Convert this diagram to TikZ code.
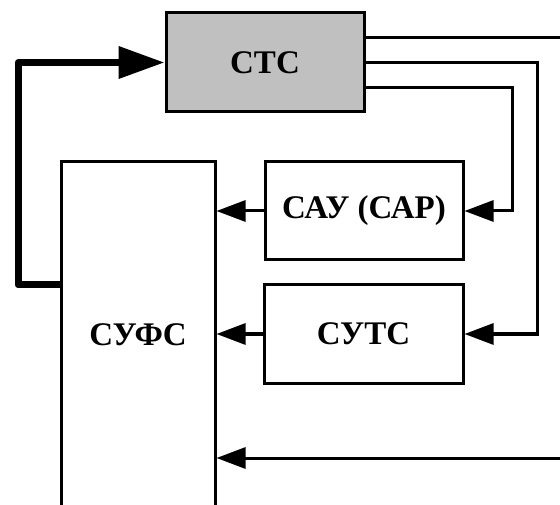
\documentclass[tikz,border=0pt]{standalone}
\usepackage{fontspec}
\setmainfont{Liberation Serif}
\usetikzlibrary{arrows.meta,calc}
\begin{document}
\begin{tikzpicture}[x=1pt,y=-1pt,
  blk/.style={draw,line width=3pt,inner sep=0pt,
    font=\bfseries\fontsize{33}{39}\selectfont},
  sig/.style={line width=3pt,line join=miter,
    -{Triangle[length=29pt,width=21pt]}},
  wire/.style={line width=3pt,line join=miter},
  fb/.style={line width=7pt,line join=round,
    -{Triangle[length=46pt,width=31pt]}}]
  \useasboundingbox (0,0) rectangle (560,505);
  \clip (0,0) rectangle (560,505);

  % blocks
  \node[blk,fill={rgb,255:red,192;green,192;blue,192},
        minimum width=198pt,minimum height=99pt] (sts) at (265,62.5) {СТС};
  \node[blk,minimum width=198pt,minimum height=98pt] (sau) at (364,211) {САУ (САР)};
  \node[blk,minimum width=199pt,minimum height=98pt] (suts) at (363.5,334) {СУТС};
  \node[blk,minimum width=154pt,minimum height=346pt] (sufs) at (138,335) {СУФС};

  % free ends at the right edge
  \coordinate (outA) at (566,38);
  \coordinate (inB) at (566,458);

  % outputs of СТС
  \draw[wire] ([yshift=24.5pt]sts.east) -- (outA);
  \draw[sig] (sts.east) -| (537,0 |- suts.east) -- (suts.east);
  \draw[sig] ([yshift=-25.5pt]sts.east) -| (512,0 |- sau.east) -- (sau.east);

  % into СУФС
  \draw[sig] (sau.west) -- (sufs.east |- sau.west);
  \draw[sig] (suts.west) -- (sufs.east |- suts.west);
  \draw[sig] (inB) -- (sufs.east |- inB);

  % feedback to СТС
  \draw[fb] (sufs.west |- 0,285) -- (18,285) -- (18,0 |- sts.west) -- (sts.west);
\end{tikzpicture}
\end{document}
